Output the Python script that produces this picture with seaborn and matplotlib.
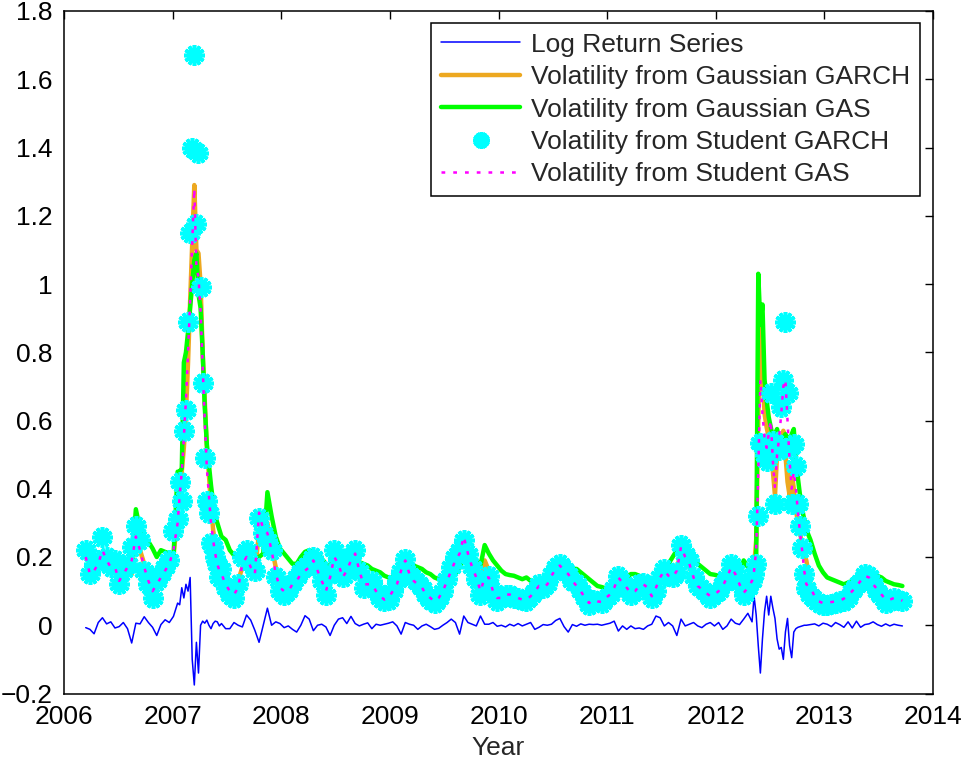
import numpy as np
import pandas as pd
import matplotlib
matplotlib.use("Agg")
import matplotlib.pyplot as plt
import seaborn as sns

# ---------------- data ----------------
# sampling calendar: segment start (decimal year), step in weeks, number of samples
seg_start = [2006.200, 2007.065, 2007.488, 2012.353, 2012.872]
seg_step_weeks = [2, 1, 2, 1, 2]
seg_count = [23, 21, 127, 26, 23]

log_return = [
    # 2006.20 - 2007.05
    -0.007, -0.012, -0.025, 0.008, 0.022, 0.004, 0.010, -0.008, -0.004, 0.008,
    -0.010, -0.052, 0.006, 0.004, 0.025, 0.008, -0.006, -0.030, 0.002, 0.016,
    0.008, 0.026, 0.065,
    # 2007.07 - 2007.45 (weekly)
    0.060, 0.110, 0.080, 0.120, 0.100, 0.140, -0.100, -0.175, -0.050, -0.140,
    0.000, 0.012, 0.006, 0.015, 0.000, -0.010, 0.005, 0.012, 0.010, -0.002, 0.005,
    # 2007.49 - 2012.33
    -0.010, -0.010, 0.008, 0.000, -0.005, 0.030, 0.015, -0.015, -0.050, 0.000,
    0.050, 0.000, 0.010, 0.005, -0.007, -0.002, -0.012, -0.020, 0.000, 0.028,
    0.018, -0.016, 0.000, 0.003, -0.005, -0.030, 0.000, 0.018, 0.022, 0.005,
    0.026, 0.005, -0.002, 0.003, 0.007, -0.010, 0.003, 0.000, 0.003, 0.006,
    0.010, -0.002, -0.026, 0.008, 0.003, 0.000, -0.012, -0.002, 0.003, -0.004,
    -0.012, -0.009, 0.000, 0.008, 0.018, 0.008, -0.026, 0.027, 0.008, 0.003,
    -0.002, 0.027, 0.003, 0.003, 0.008, -0.003, 0.000, -0.005, 0.003, -0.002,
    0.005, -0.002, 0.003, 0.008, -0.012, -0.006, 0.002, 0.000, 0.003, 0.014,
    0.020, -0.004, -0.020, 0.002, -0.003, 0.004, 0.000, 0.003, 0.002, 0.003,
    0.000, 0.003, 0.006, 0.012, -0.017, -0.002, -0.012, -0.002, -0.010, -0.008,
    -0.012, -0.002, 0.003, 0.027, 0.022, -0.002, 0.008, -0.002, -0.030, 0.018,
    -0.002, 0.003, 0.008, -0.002, -0.007, 0.003, 0.008, -0.002, 0.008, -0.012,
    -0.002, 0.018, 0.006, 0.002, 0.018, 0.035, 0.010,
    # 2012.35 - 2012.83 (weekly)
    0.085, 0.030, -0.060, -0.140, -0.040, 0.040, 0.085, 0.030, 0.085, 0.050,
    0.020, -0.040, -0.070, -0.065, -0.100, -0.020, 0.020, -0.060, -0.095, -0.020,
    -0.010, -0.006, -0.004, -0.002, 0.000, 0.000,
    # 2012.87 - 2013.72
    0.002, 0.004, -0.002, 0.006, 0.003, -0.004, 0.008, 0.002, -0.006, 0.010,
    -0.008, 0.012, -0.006, 0.002, 0.004, 0.010, 0.002, -0.003, 0.004, -0.002,
    0.003, 0.000, -0.002,
]

vol_gauss_garch = [
    0.20, 0.18, 0.18, 0.19, 0.20, 0.19, 0.18, 0.16, 0.14, 0.14,
    0.16, 0.15, 0.28, 0.22, 0.18, 0.15, 0.12, 0.14, 0.15, 0.16,
    0.17, 0.20, 0.33,
    0.40, 0.45, 0.52, 0.62, 0.77, 0.95, 1.12, 1.29, 1.10, 1.09,
    1.00, 0.80, 0.66, 0.52, 0.44, 0.35, 0.28, 0.24, 0.21, 0.19, 0.18,
    0.150, 0.130, 0.120, 0.130, 0.170, 0.190, 0.170, 0.160, 0.270, 0.260,
    0.300, 0.230, 0.170, 0.130, 0.110, 0.110, 0.120, 0.140, 0.150, 0.170,
    0.180, 0.190, 0.170, 0.140, 0.120, 0.150, 0.190, 0.180, 0.160, 0.170,
    0.190, 0.200, 0.170, 0.140, 0.130, 0.130, 0.120, 0.100, 0.090, 0.090,
    0.100, 0.120, 0.160, 0.180, 0.150, 0.140, 0.130, 0.120, 0.100, 0.090,
    0.085, 0.090, 0.100, 0.120, 0.150, 0.170, 0.190, 0.220, 0.200, 0.170,
    0.140, 0.120, 0.190, 0.160, 0.120, 0.100, 0.095, 0.095, 0.090, 0.090,
    0.085, 0.085, 0.080, 0.090, 0.100, 0.110, 0.110, 0.120, 0.140, 0.160,
    0.170, 0.160, 0.160, 0.140, 0.120, 0.110, 0.090, 0.080, 0.080, 0.075,
    0.075, 0.080, 0.090, 0.100, 0.130, 0.120, 0.110, 0.100, 0.100, 0.110,
    0.120, 0.110, 0.090, 0.120, 0.140, 0.150, 0.140, 0.140, 0.170, 0.210,
    0.190, 0.170, 0.140, 0.120, 0.110, 0.100, 0.090, 0.095, 0.100, 0.110,
    0.130, 0.160, 0.150, 0.120, 0.110, 0.120, 0.140,
    0.17, 0.25, 0.60, 0.87, 0.75, 0.62, 0.58, 0.55, 0.52, 0.45,
    0.38, 0.50, 0.55, 0.50, 0.57, 0.50, 0.42, 0.38, 0.45, 0.40,
    0.34, 0.30, 0.27, 0.24, 0.21, 0.19,
    0.120, 0.090, 0.075, 0.070, 0.068, 0.070, 0.072, 0.075, 0.080, 0.090,
    0.105, 0.120, 0.130, 0.145, 0.140, 0.125, 0.110, 0.095, 0.080, 0.080,
    0.085, 0.080, 0.075,
]

vol_gauss_gas = [
    0.21, 0.20, 0.19, 0.19, 0.19, 0.18, 0.18, 0.17, 0.17, 0.17,
    0.16, 0.17, 0.34, 0.28, 0.255, 0.245, 0.225, 0.20, 0.22, 0.215,
    0.21, 0.20, 0.45,
    0.45, 0.46, 0.77, 0.80, 0.86, 0.93, 1.00, 1.07, 1.09, 0.97,
    0.93, 0.80, 0.64, 0.53, 0.47, 0.41, 0.36, 0.32, 0.30, 0.28, 0.26,
    0.250, 0.220, 0.205, 0.195, 0.190, 0.185, 0.180, 0.190, 0.200, 0.210,
    0.390, 0.320, 0.260, 0.225, 0.210, 0.195, 0.180, 0.180, 0.200, 0.215,
    0.220, 0.215, 0.210, 0.195, 0.180, 0.170, 0.210, 0.220, 0.215, 0.200,
    0.195, 0.190, 0.185, 0.180, 0.175, 0.165, 0.160, 0.155, 0.145, 0.140,
    0.140, 0.135, 0.170, 0.190, 0.180, 0.175, 0.170, 0.165, 0.155, 0.150,
    0.140, 0.135, 0.130, 0.130, 0.140, 0.150, 0.170, 0.200, 0.220, 0.200,
    0.190, 0.175, 0.235, 0.210, 0.190, 0.175, 0.160, 0.150, 0.147, 0.145,
    0.140, 0.135, 0.140, 0.130, 0.130, 0.125, 0.125, 0.120, 0.140, 0.160,
    0.170, 0.175, 0.170, 0.165, 0.165, 0.155, 0.145, 0.135, 0.125, 0.115,
    0.112, 0.108, 0.105, 0.110, 0.115, 0.125, 0.140, 0.150, 0.150, 0.145,
    0.140, 0.135, 0.130, 0.130, 0.140, 0.160, 0.180, 0.200, 0.220, 0.210,
    0.210, 0.200, 0.195, 0.180, 0.170, 0.160, 0.150, 0.148, 0.145, 0.145,
    0.150, 0.160, 0.150, 0.145, 0.190, 0.170, 0.160,
    0.17, 0.18, 1.03, 0.88, 0.94, 0.72, 0.66, 0.61, 0.58, 0.55,
    0.56, 0.575, 0.54, 0.52, 0.55, 0.56, 0.55, 0.54, 0.56, 0.575,
    0.48, 0.43, 0.38, 0.34, 0.31, 0.28,
    0.250, 0.210, 0.175, 0.155, 0.140, 0.135, 0.130, 0.125, 0.120, 0.125,
    0.130, 0.135, 0.140, 0.150, 0.155, 0.150, 0.145, 0.140, 0.130, 0.125,
    0.120, 0.118, 0.115,
]

vol_student_garch = [
    0.22, 0.15, 0.18, 0.19, 0.26, 0.20, 0.17, 0.19, 0.12, 0.16,
    0.18, 0.23, 0.29, 0.25, 0.16, 0.12, 0.08, 0.13, 0.15, 0.17,
    0.19, 0.276, 0.31,
    0.42, 0.365, 0.57, 0.63, 0.89, 1.15, 1.40, 1.67, 1.175, 1.385,
    0.99, 0.71, 0.49, 0.365, 0.33, 0.24, 0.23, 0.20, 0.18, 0.14, 0.165,
    0.110, 0.090, 0.080, 0.120, 0.200, 0.220, 0.180, 0.160, 0.315, 0.270,
    0.250, 0.220, 0.140, 0.100, 0.090, 0.100, 0.120, 0.140, 0.160, 0.170,
    0.180, 0.200, 0.170, 0.130, 0.090, 0.150, 0.220, 0.190, 0.140, 0.170,
    0.200, 0.220, 0.160, 0.110, 0.120, 0.130, 0.100, 0.080, 0.070, 0.075,
    0.100, 0.130, 0.160, 0.195, 0.150, 0.135, 0.125, 0.110, 0.090, 0.075,
    0.065, 0.080, 0.100, 0.135, 0.170, 0.200, 0.220, 0.250, 0.210, 0.170,
    0.135, 0.090, 0.130, 0.145, 0.100, 0.070, 0.080, 0.090, 0.090, 0.080,
    0.080, 0.075, 0.070, 0.085, 0.100, 0.120, 0.110, 0.120, 0.150, 0.170,
    0.180, 0.165, 0.150, 0.130, 0.120, 0.100, 0.080, 0.060, 0.075, 0.070,
    0.065, 0.080, 0.090, 0.110, 0.145, 0.125, 0.110, 0.090, 0.100, 0.120,
    0.125, 0.115, 0.080, 0.100, 0.140, 0.165, 0.145, 0.140, 0.155, 0.235,
    0.210, 0.190, 0.140, 0.115, 0.105, 0.095, 0.080, 0.090, 0.100, 0.120,
    0.140, 0.180, 0.160, 0.120, 0.090, 0.110, 0.130,
    0.15, 0.18, 0.32, 0.535, 0.53, 0.50, 0.48, 0.535, 0.68, 0.54,
    0.354, 0.53, 0.515, 0.64, 0.72, 0.89, 0.68, 0.52, 0.354, 0.53,
    0.466, 0.354, 0.29, 0.227, 0.15, 0.11,
    0.090, 0.075, 0.065, 0.060, 0.060, 0.062, 0.065, 0.070, 0.072, 0.080,
    0.100, 0.115, 0.130, 0.150, 0.145, 0.120, 0.100, 0.085, 0.065, 0.070,
    0.080, 0.075, 0.070,
]

vol_student_gas = [
    0.20, 0.15, 0.16, 0.18, 0.22, 0.19, 0.17, 0.17, 0.13, 0.15,
    0.17, 0.19, 0.26, 0.22, 0.17, 0.13, 0.10, 0.12, 0.14, 0.16,
    0.18, 0.22, 0.30,
    0.38, 0.45, 0.55, 0.66, 0.80, 0.95, 1.12, 1.28, 1.05, 1.02,
    0.92, 0.76, 0.60, 0.46, 0.38, 0.30, 0.25, 0.21, 0.18, 0.16, 0.15,
    0.120, 0.100, 0.090, 0.110, 0.180, 0.200, 0.170, 0.150, 0.330, 0.280,
    0.270, 0.220, 0.150, 0.110, 0.100, 0.100, 0.120, 0.130, 0.150, 0.160,
    0.170, 0.190, 0.160, 0.130, 0.100, 0.140, 0.200, 0.180, 0.140, 0.160,
    0.190, 0.210, 0.160, 0.120, 0.120, 0.120, 0.100, 0.085, 0.075, 0.080,
    0.100, 0.120, 0.160, 0.190, 0.150, 0.130, 0.120, 0.110, 0.090, 0.080,
    0.070, 0.080, 0.100, 0.130, 0.160, 0.190, 0.210, 0.260, 0.210, 0.170,
    0.140, 0.100, 0.140, 0.140, 0.100, 0.080, 0.080, 0.090, 0.090, 0.085,
    0.080, 0.075, 0.075, 0.085, 0.100, 0.115, 0.110, 0.120, 0.145, 0.165,
    0.175, 0.160, 0.150, 0.130, 0.115, 0.100, 0.080, 0.065, 0.075, 0.070,
    0.068, 0.080, 0.090, 0.110, 0.140, 0.125, 0.110, 0.095, 0.100, 0.115,
    0.120, 0.110, 0.085, 0.110, 0.140, 0.160, 0.145, 0.140, 0.160, 0.230,
    0.200, 0.180, 0.140, 0.115, 0.105, 0.095, 0.085, 0.090, 0.100, 0.115,
    0.140, 0.170, 0.150, 0.120, 0.095, 0.110, 0.130,
    0.16, 0.22, 0.45, 0.72, 0.62, 0.55, 0.52, 0.56, 0.60, 0.48,
    0.40, 0.50, 0.55, 0.62, 0.70, 0.72, 0.60, 0.48, 0.40, 0.45,
    0.40, 0.33, 0.27, 0.22, 0.16, 0.12,
    0.110, 0.085, 0.070, 0.065, 0.065, 0.068, 0.070, 0.072, 0.078, 0.088,
    0.100, 0.115, 0.130, 0.145, 0.140, 0.120, 0.105, 0.090, 0.075, 0.075,
    0.080, 0.078, 0.072,
]

series_labels = [
    "Log Return Series",
    "Volatility from Gaussian GARCH",
    "Volatility from Gaussian GAS",
    "Volatility from Student GARCH",
    "Volatility from Student GAS",
]
xtick_values = [2006, 2007, 2008, 2009, 2010, 2011, 2012, 2013, 2014]
ytick_values = [-0.2, 0.0, 0.2, 0.4, 0.6, 0.8, 1.0, 1.2, 1.4, 1.6, 1.8]
ytick_labels = ["\u22120.2", "0", "0.2", "0.4", "0.6", "0.8", "1", "1.2", "1.4", "1.6", "1.8"]

# ---------------- build table ----------------
year = np.concatenate([s + np.arange(n) * w / 52.0
                       for s, w, n in zip(seg_start, seg_step_weeks, seg_count)])
df = pd.DataFrame({
    "year": year,
    "ret": log_return,
    "g_garch": vol_gauss_garch,
    "g_gas": vol_gauss_gas,
    "t_garch": vol_student_garch,
    "t_gas": vol_student_gas,
})

# ---------------- style ----------------
sns.set_style("white")
plt.rcParams["font.family"] = ["Liberation Sans", "DejaVu Sans"]
plt.rcParams["axes.unicode_minus"] = True

W, H = 964, 761
fig = plt.figure(figsize=(W / 100, H / 100), dpi=100)
ax = fig.add_axes([64 / W, 67.5 / H, 869 / W, 682.5 / H])

common = dict(ax=ax, x="year", data=df, estimator=None, sort=False, errorbar=None)
sns.lineplot(y="ret", color="#0000FF", linewidth=1.1, label=series_labels[0], **common)
sns.lineplot(y="g_garch", color="#EDA820", linewidth=3.2, label=series_labels[1], **common)
sns.lineplot(y="g_gas", color="#00FF00", linewidth=3.2, label=series_labels[2], **common)
sns.lineplot(y="t_garch", color="#00FFFF", linestyle="none", marker=(12, 2, 0),
             markersize=15, markeredgewidth=2.6, markeredgecolor="#00FFFF",
             markerfacecolor="#00FFFF", label=series_labels[3], **common)
sns.lineplot(y="t_gas", color="#FF00FF", linewidth=1.8, linestyle=(0, (1.5, 3.2)),
             label=series_labels[4], **common)

ax.set_xlim(2006, 2014)
ax.set_ylim(-0.2, 1.8)
ax.set_xticks(xtick_values)
ax.set_xticklabels([str(v) for v in xtick_values])
ax.set_yticks(ytick_values)
ax.set_yticklabels(ytick_labels)
ax.tick_params(direction="in", length=6, width=1, top=True, right=True,
               labelsize=19, pad=8, colors="black")
for sp in ax.spines.values():
    sp.set_visible(True)
    sp.set_linewidth(1.1)
    sp.set_color("black")
ax.set_xlabel("Year", fontsize=19, labelpad=5)
ax.set_ylabel("")

handles, labels = ax.get_legend_handles_labels()
leg = ax.legend(handles, labels, loc="upper right", bbox_to_anchor=(0.985, 0.983),
                borderaxespad=0, fontsize=19, frameon=True, fancybox=False,
                framealpha=1, edgecolor="black", handlelength=3.0,
                handletextpad=0.4, labelspacing=0.32, borderpad=0.38)
for lh in leg.legend_handles:
    if lh.get_marker() not in (None, "None", ""):
        lh.set_markersize(12)
leg.get_frame().set_linewidth(1.1)

fig.savefig("out.png", dpi=100, facecolor="white")
